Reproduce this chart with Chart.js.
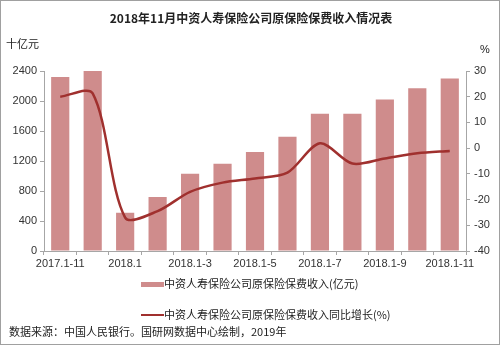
<!DOCTYPE html>
<html><head><meta charset="utf-8">
<script src="https://cdn.jsdelivr.net/npm/chart.js@4"></script>
<style>
html,body{margin:0;padding:0;background:#fff;}
#wrap{position:relative;width:500px;height:345px;box-sizing:border-box;border:1px solid #a0a0a0;overflow:hidden;font-family:"Noto Sans CJK SC","Liberation Sans",sans-serif;color:#222;}
#c{position:absolute;left:0;top:0;}
.t{position:absolute;white-space:nowrap;font-size:11px;line-height:1;}
</style></head><body>
<div id="wrap">
<canvas id="c" width="500" height="345"></canvas>
<div class="t" style="left:0;width:500px;text-align:center;top:11px;font-size:12px;font-weight:bold;">2018年11月中资人寿保险公司原保险保费收入情况表</div>
<div class="t" style="left:5px;top:37px;">十亿元</div>
<div class="t" style="left:479px;top:43px;font-family:'Liberation Sans',sans-serif;">%</div>
<div class="t" style="left:140px;top:281px;width:23px;height:5px;background:#cf8c8c;"></div>
<div class="t" id="lg1" style="left:163px;top:277px;"></div>
<div class="t" style="left:140px;top:313px;width:23px;height:2px;background:#a0302e;"></div>
<div class="t" id="lg2" style="left:163px;top:308px;"></div>
<div class="t" id="src" style="left:8px;top:325px;"></div>
</div>
<script>
const categories = ["2017.1-11","2017.1-12","2018.1","2018.1-2","2018.1-3","2018.1-4","2018.1-5","2018.1-6","2018.1-7","2018.1-8","2018.1-9","2018.1-10","2018.1-11"];
const premiumIncome = [2320,2405,510,720,1030,1165,1320,1525,1830,1830,2020,2170,2300];
const yoyGrowth = [20,21.3,-27,-24.5,-17,-13.4,-11.8,-9.5,1.9,-6,-4,-2,-1.1];
const leftTicks = [0,400,800,1200,1600,2000,2400];
const rightTicks = [-40,-30,-20,-10,0,10,20,30];
const seriesNames = ["中资人寿保险公司原保险保费收入(亿元)","中资人寿保险公司原保险保费收入同比增长(%)"];
const sourceText = "数据来源：中国人民银行。国研网数据中心绘制，2019年";

document.getElementById('lg1').textContent = seriesNames[0];
document.getElementById('lg2').textContent = seriesNames[1];
document.getElementById('src').textContent = sourceText;

const tickFont = {family:"'Liberation Sans', Arial, sans-serif", size:11};
new Chart(document.getElementById('c'), {
  data: {
    labels: categories,
    datasets: [
      {type:'line', label:seriesNames[1], data:yoyGrowth, yAxisID:'y2', borderColor:'#a0302e', borderWidth:2.5, pointRadius:0, tension:0.3, order:0},
      {type:'bar', label:seriesNames[0], data:premiumIncome, yAxisID:'y', backgroundColor:'#cf8c8c', barPercentage:0.56, categoryPercentage:1, order:1}
    ]
  },
  options: {
    responsive:false, animation:false, devicePixelRatio:1,
    layout:{padding:{top:70,left:0,right:0,bottom:0}},
    plugins:{legend:{display:false}, tooltip:{enabled:false}},
    scales:{
      x:{
        grid:{display:true, drawOnChartArea:false, color:'#a6a6a6', tickLength:4, offset:true},
        border:{color:'#a6a6a6'},
        ticks:{autoSkip:false, maxRotation:0, color:'#333', font:tickFont, padding:2,
          callback:function(v,i){return i%2===0?categories[i]:'';}},
        afterFit:function(s){s.height=95;}
      },
      y:{
        position:'left', min:0, max:2400,
        afterBuildTicks:function(s){s.ticks=leftTicks.map(v=>({value:v}));},
        grid:{display:true, drawOnChartArea:false, color:'#a6a6a6', tickLength:4},
        border:{color:'#a6a6a6'},
        ticks:{color:'#333', font:tickFont, padding:3, callback:function(v){return String(v);}},
        afterFit:function(s){s.width=43;}
      },
      y2:{
        position:'right', min:-40, max:30,
        afterBuildTicks:function(s){s.ticks=rightTicks.map(v=>({value:v}));},
        grid:{display:true, drawOnChartArea:false, color:'#a6a6a6', tickLength:4},
        border:{color:'#a6a6a6'},
        ticks:{color:'#333', font:tickFont, padding:4, callback:function(v){return String(v);}},
        afterFit:function(s){s.width=35;}
      }
    }
  }
});
</script>
</body></html>
